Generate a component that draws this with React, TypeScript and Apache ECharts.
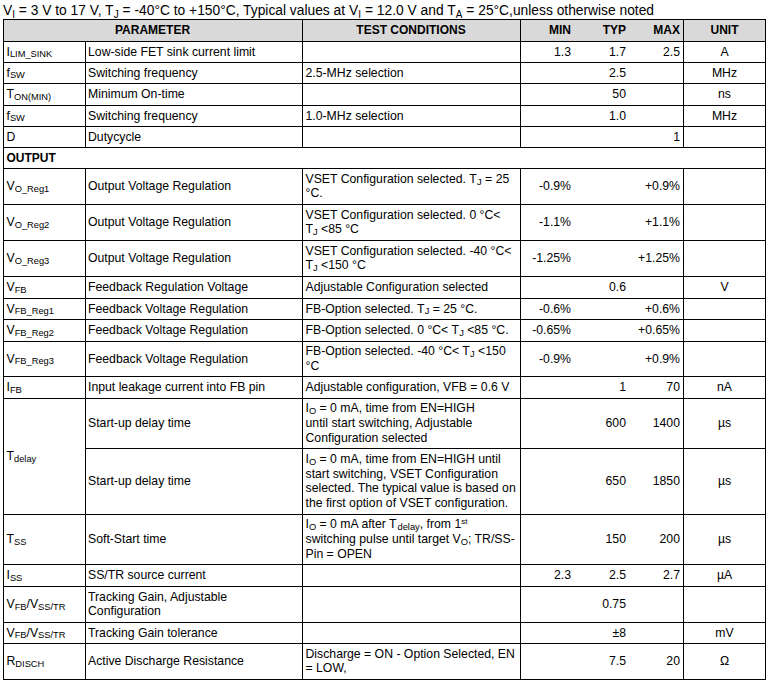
import { useEffect, useRef } from 'react';
import * as echarts from 'echarts';

// ---------- data ----------
const titleText =
  'V_[I] = 3 V to 17 V, T_[J] = -40°C to +150°C, Typical values at V_[I] = 12.0 V and T_[A] = 25°C,unless otherwise noted';
const headers = ['PARAMETER', 'TEST CONDITIONS', 'MIN', 'TYP', 'MAX', 'UNIT'];
const sectionLabel = 'OUTPUT';
const sectionRow = 5;

const symbols = [
  'I_[LIM_SINK]', 'f_[SW]', 'T_[ON(MIN)]', 'f_[SW]', 'D', '',
  'V_[O_Reg1]', 'V_[O_Reg2]', 'V_[O_Reg3]', 'V_[FB]', 'V_[FB_Reg1]', 'V_[FB_Reg2]', 'V_[FB_Reg3]',
  'I_[FB]', 'T_[delay]', '', 'T~[SS]', 'I~[SS]', 'V~[FB]/V~[SS/TR]', 'V~[FB]/V~[SS/TR]', 'R~[DISCH]',
];
const symbolSpans = [1, 1, 1, 1, 1, 1, 1, 1, 1, 1, 1, 1, 1, 1, 2, 0, 1, 1, 1, 1, 1];

const parameters = [
  'Low-side FET sink current limit', 'Switching frequency', 'Minimum On-time', 'Switching frequency', 'Dutycycle', '',
  'Output Voltage Regulation', 'Output Voltage Regulation', 'Output Voltage Regulation',
  'Feedback Regulation Voltage', 'Feedback Voltage Regulation', 'Feedback Voltage Regulation', 'Feedback Voltage Regulation',
  'Input leakage current into FB pin', 'Start-up delay time', 'Start-up delay time', 'Soft-Start time',
  'SS/TR source current', 'Tracking Gain, Adjustable\nConfiguration', 'Tracking Gain tolerance', 'Active Discharge Resistance',
];

const conditions = [
  '', '2.5-MHz selection', '', '1.0-MHz selection', '', '',
  'VSET Configuration selected. T_[J] = 25\n°C.',
  'VSET Configuration selected. 0 °C<\nT_[J] <85 °C',
  'VSET Configuration selected. -40 °C<\nT_[J] <150 °C',
  'Adjustable Configuration selected',
  'FB-Option selected. T_[J] = 25 °C.',
  'FB-Option selected. 0 °C< T_[J] <85 °C.',
  'FB-Option selected. -40 °C< T_[J] <150\n°C',
  'Adjustable configuration, VFB = 0.6 V',
  'I_[O] = 0 mA, time from EN=HIGH\nuntil start switching, Adjustable\nConfiguration selected',
  'I_[O] = 0 mA, time from EN=HIGH until\nstart switching, VSET Configuration\nselected. The typical value is based on\nthe first option of VSET configuration.',
  'I_[O] = 0 mA after T_[delay], from 1^[st]\nswitching pulse until target V_[O]; TR/SS-\nPin = OPEN',
  '', '', '',
  'Discharge = ON - Option Selected, EN\n= LOW,',
];

const minValues = ['1.3', '', '', '', '', '', '-0.9%', '-1.1%', '-1.25%', '', '-0.6%', '-0.65%', '-0.9%', '', '', '', '', '2.3', '', '', ''];
const typValues = ['1.7', '2.5', '50', '1.0', '', '', '', '', '', '0.6', '', '', '', '1', '600', '650', '150', '2.5', '0.75', '±8', '7.5'];
const maxValues = ['2.5', '', '', '', '1', '', '+0.9%', '+1.1%', '+1.25%', '', '+0.6%', '+0.65%', '+0.9%', '70', '1400', '1850', '200', '2.7', '', '', '20'];
const units = ['A', 'MHz', 'ns', 'MHz', '', '', '', '', '', 'V', '', '', '', 'nA', 'µs', 'µs', 'µs', 'µA', '', 'mV', 'Ω'];

// ---------- layout ----------
const rowEdges = [19, 41, 62, 83, 105, 126, 147, 168, 204, 240, 276, 298, 319, 341, 376, 398, 448, 514, 564, 586, 622, 643, 679];
const colEdges = [3, 85, 302, 520, 683, 765];
const valueRights = [571, 626, 680];
const FONT = '"Liberation Sans", Arial, Helvetica, sans-serif';

const richStyles: any = {
  n: { fontSize: 12.25, fontFamily: FONT, lineHeight: 14.6, fill: '#000' },
  nSub: { fontSize: 9.3, fontFamily: FONT, lineHeight: 9, verticalAlign: 'bottom', fill: '#000' },
  nCap: { fontSize: 9.3, fontFamily: FONT, lineHeight: 12.4, verticalAlign: 'bottom', fill: '#000' },
  nSup: { fontSize: 8, fontFamily: FONT, lineHeight: 8, verticalAlign: 'top', fill: '#000' },
  t: { fontSize: 13.8, fontFamily: FONT, lineHeight: 17, fill: '#000' },
  tSub: { fontSize: 10, fontFamily: FONT, lineHeight: 10, verticalAlign: 'bottom', fill: '#000' },
  tCap: { fontSize: 10, fontFamily: FONT, lineHeight: 14, verticalAlign: 'bottom', fill: '#000' },
  tSup: { fontSize: 9, fontFamily: FONT, lineHeight: 9, verticalAlign: 'top', fill: '#000' },
};

function toRich(s: string, base: string): string {
  let out = '';
  let last = 0;
  const re = /([_~^])\[([^\]]*)\]/g;
  let m: RegExpExecArray | null;
  while ((m = re.exec(s))) {
    if (m.index > last) out += `{${base}|${s.slice(last, m.index)}}`;
    const key = m[1] === '_' ? base + 'Sub' : m[1] === '~' ? base + 'Cap' : base + 'Sup';
    out += `{${key}|${m[2]}}`;
    last = re.lastIndex;
  }
  if (last < s.length) out += `{${base}|${s.slice(last)}}`;
  return out;
}

function richText(s: string, x: number, y: number, align: string, base = 'n') {
  return {
    type: 'text',
    x,
    y,
    silent: true,
    style: {
      text: toRich(s, base),
      rich: richStyles,
      textAlign: align,
      textVerticalAlign: 'middle',
      fontSize: base === 't' ? 13.8 : 12.25,
      fontFamily: FONT,
      fill: '#000',
    },
  };
}

function boldText(s: string, x: number, y: number, align: string) {
  return {
    type: 'text',
    x,
    y,
    silent: true,
    style: {
      text: s,
      textAlign: align,
      textVerticalAlign: 'middle',
      fontSize: 12,
      fontWeight: 'bold',
      fontFamily: FONT,
      fill: '#000',
    },
  };
}

function hLine(x1: number, x2: number, y: number) {
  return {
    type: 'line',
    silent: true,
    shape: { x1, y1: y + 0.5, x2: x2 + 1, y2: y + 0.5 },
    style: { stroke: '#000', lineWidth: 1 },
  };
}
function vLine(x: number, y1: number, y2: number) {
  return {
    type: 'line',
    silent: true,
    shape: { x1: x + 0.5, y1, x2: x + 0.5, y2: y2 + 1 },
    style: { stroke: '#000', lineWidth: 1 },
  };
}

function buildElements() {
  const els: any[] = [];
  const left = colEdges[0];
  const right = colEdges[colEdges.length - 1];
  const top = rowEdges[0];
  const bottom = rowEdges[rowEdges.length - 1];

  // header background
  els.push({
    type: 'rect',
    silent: true,
    shape: { x: left, y: rowEdges[0], width: right - left, height: rowEdges[1] - rowEdges[0] },
    style: { fill: '#d9d9d9' },
  });

  // horizontal lines: rowEdges[k] is the top edge of data row k-1
  rowEdges.forEach((y, k) => {
    const dataRow = k - 1;
    if (dataRow >= 0 && dataRow < symbols.length && symbolSpans[dataRow] === 0) {
      els.push(hLine(colEdges[1], right, y));
    } else {
      els.push(hLine(left, right, y));
    }
  });

  // vertical lines
  els.push(vLine(left, top, bottom));
  els.push(vLine(right, top, bottom));
  for (let r = 0; r < rowEdges.length - 1; r++) {
    const y1 = rowEdges[r];
    const y2 = rowEdges[r + 1];
    const dataRow = r - 1;
    if (dataRow === sectionRow) continue;
    if (dataRow >= 0) els.push(vLine(colEdges[1], y1, y2));
    els.push(vLine(colEdges[2], y1, y2));
    els.push(vLine(colEdges[3], y1, y2));
    els.push(vLine(colEdges[4], y1, y2));
  }

  // title
  els.push(richText(titleText, 3, 10.5, 'left', 't'));

  // header
  const hy = (rowEdges[0] + rowEdges[1]) / 2;
  els.push(boldText(headers[0], (colEdges[0] + colEdges[2]) / 2, hy, 'center'));
  els.push(boldText(headers[1], (colEdges[2] + colEdges[3]) / 2, hy, 'center'));
  els.push(boldText(headers[2], valueRights[0], hy, 'right'));
  els.push(boldText(headers[3], valueRights[1], hy, 'right'));
  els.push(boldText(headers[4], valueRights[2], hy, 'right'));
  els.push(boldText(headers[5], (colEdges[4] + colEdges[5]) / 2 + 0.5, hy, 'center'));

  // body
  for (let i = 0; i < symbols.length; i++) {
    const y1 = rowEdges[i + 1];
    const y2 = rowEdges[i + 2];
    const cy = (y1 + y2) / 2;
    if (i === sectionRow) {
      els.push(boldText(sectionLabel, 6.5, cy, 'left'));
      continue;
    }
    if (symbolSpans[i] > 0 && symbols[i]) {
      const yEnd = rowEdges[i + 1 + symbolSpans[i]];
      els.push(richText(symbols[i], 6.5, (y1 + yEnd) / 2, 'left'));
    }
    if (parameters[i]) els.push(richText(parameters[i], 88, cy, 'left'));
    if (conditions[i]) els.push(richText(conditions[i], 305.5, cy, 'left'));
    if (minValues[i]) els.push(richText(minValues[i], valueRights[0], cy, 'right'));
    if (typValues[i]) els.push(richText(typValues[i], valueRights[1], cy, 'right'));
    if (maxValues[i]) els.push(richText(maxValues[i], valueRights[2], cy, 'right'));
    if (units[i]) els.push(richText(units[i], (colEdges[4] + colEdges[5]) / 2 + 0.5, cy, 'center'));
  }
  return els;
}

export default function App() {
  const ref = useRef<HTMLDivElement>(null);
  useEffect(() => {
    if (!ref.current) return;
    const chart = echarts.init(ref.current, null, { renderer: 'svg' });
    chart.setOption({
      animation: false,
      backgroundColor: '#ffffff',
      graphic: { elements: buildElements() },
    });
    return () => chart.dispose();
  }, []);
  return (
    <div
      ref={ref}
      style={{ position: 'fixed', left: 0, top: 0, width: 775, height: 690, background: '#fff' }}
    />
  );
}
